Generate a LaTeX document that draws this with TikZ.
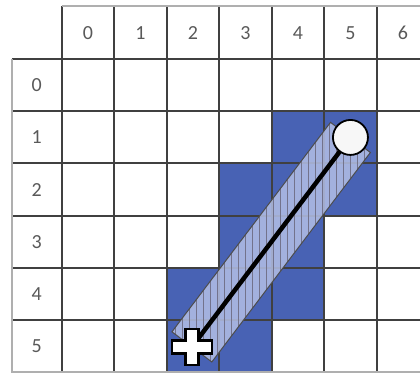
\documentclass[tikz,border=0pt]{standalone}
\usepackage{fontspec}
\setmainfont{Carlito}
\usetikzlibrary{calc,patterns.meta}
\definecolor{zellblau}{RGB}{72,98,180}
\definecolor{bandblau}{RGB}{180,192,230}
\definecolor{rasterdunkel}{RGB}{64,64,64}
\definecolor{rasterhell}{RGB}{175,175,175}
\definecolor{textgrau}{RGB}{89,89,89}

\begin{document}
\begin{tikzpicture}[x=52.5pt, y=-52.1pt,
				zahl/.style={text=textgrau, font=\fontsize{20}{24}\selectfont},
				band/.style={preaction={fill=bandblau, fill opacity=0.85},
					pattern={Lines[angle=90, distance=7pt, line width=0.7pt]}, pattern color=gray!90!blue,
					draw=gray!60!black, line width=1pt},
				>=latex]
				%Bildbereich
				\useasboundingbox (-1.175,-1.138) rectangle (6.825,6.06);
				\clip (-1.175,-1.138) rectangle (6.825,6.06);
				% Blaue Zellen
				\foreach \c/\r in {4/1,5/1,3/2,4/2,5/2,3/3,4/3,2/4,3/4,4/4,2/5,3/5} \fill[zellblau] (\c,\r) rectangle ++(1,1);
				%Raster zeichnen
				\foreach \x in {0,...,7} \draw[rasterdunkel, line width=2pt] (\x,-1.02) -- (\x,6);
				\foreach \y in {0,...,5} \draw[rasterdunkel, line width=2pt] (-0.95,\y) -- (7,\y);
				\draw[rasterhell, line width=2pt] (0,-1.02) -- (7,-1.02);
				\draw[rasterhell, line width=2pt] (-0.95,0) -- (-0.95,6) -- (7,6);
				% Beschriftung
				\foreach \x in {0,...,6} \node[zahl] (c\x) at (\x+0.5,-0.51) {\x};
				\foreach \y in {0,...,5} \node[zahl] (r\y) at (-0.475,\y+0.5) {\y};
				% Strecke
				\coordinate (start) at (2.48,5.52);
				\coordinate (ziel) at (5.5,1.5);
				\draw[band] ($(start)!25pt!90:(ziel)$) -- ($(start)!25pt!-90:(ziel)$) -- ($(ziel)!25pt!90:(start)$) -- ($(ziel)!25pt!-90:(start)$) -- cycle;
				\draw[black, line width=4.5pt] (start) -- (ziel);
				\node[circle, draw=black, line width=1.8pt, fill=gray!6, minimum size=35pt, inner sep=0pt] (kreis) at (ziel) {};
				\draw[fill=white, line width=2.5pt, line join=miter, shift={(start)}] (-6.5pt,-18pt) -- (6.5pt,-18pt) -- (6.5pt,-6.5pt) -- (20pt,-6.5pt) -- (20pt,6.5pt) -- (6.5pt,6.5pt) -- (6.5pt,18pt) -- (-6.5pt,18pt) -- (-6.5pt,6.5pt) -- (-20pt,6.5pt) -- (-20pt,-6.5pt) -- (-6.5pt,-6.5pt) -- cycle;
			\end{tikzpicture}
\end{document}
